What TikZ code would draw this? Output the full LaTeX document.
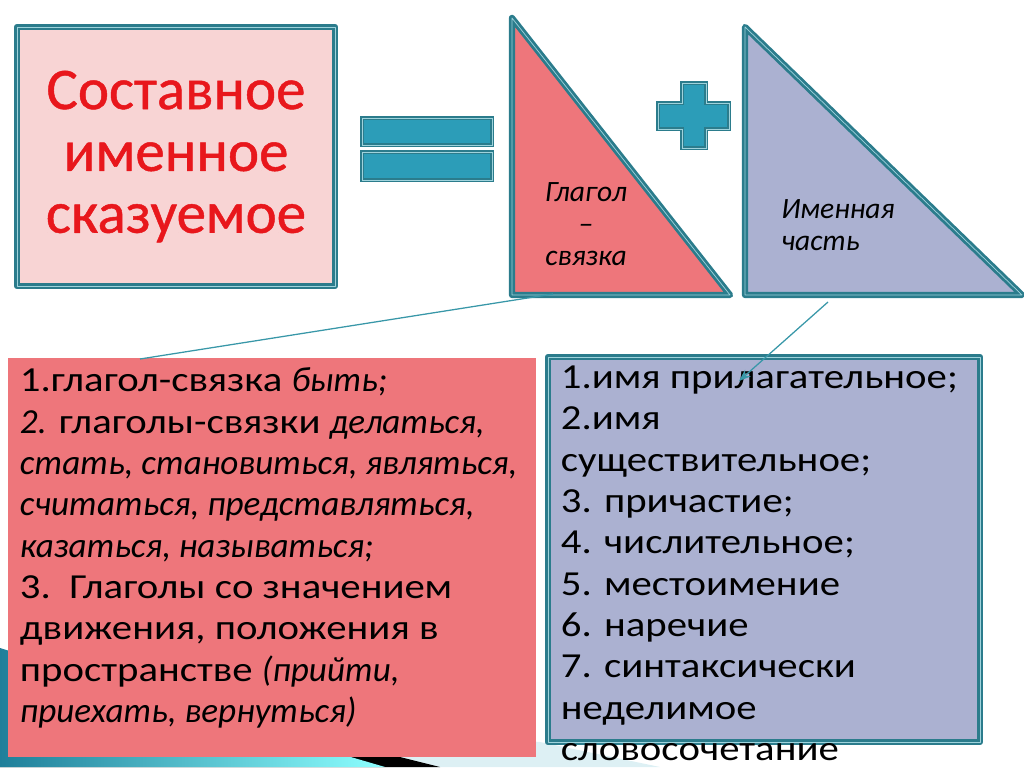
\documentclass[tikz,border=0pt]{standalone}
\usepackage{fontspec}
\setmainfont{Carlito}
\newfontfamily\listfont{Carlito}[UprightFeatures={FakeStretch=1.16}]
\newfontfamily\headfont{Carlito}[FakeBold=0.8]
\usetikzlibrary{arrows.meta,positioning}

\definecolor{edgeteal}{HTML}{2B7C8C}
\definecolor{sheen}{HTML}{9FD3DC}
\definecolor{barteal}{HTML}{2C9DB8}
\definecolor{rosefill}{HTML}{EE767B}
\definecolor{blushfill}{HTML}{F8D4D4}
\definecolor{lilacfill}{HTML}{ABB1D1}
\definecolor{titlered}{HTML}{E8171C}
\definecolor{linkteal}{HTML}{3897A8}
\definecolor{swooshteal}{HTML}{1F7F9A}
\definecolor{swooshlight}{HTML}{DDF0F4}

\tikzset{
  frame/.style={draw=edgeteal, line width=2pt, double=sheen, double distance=0.5pt, line join=round},
  bar/.style={fill=barteal, draw=edgeteal, line width=1pt, double=sheen, double distance=0.4pt},
  link/.style={draw=linkteal, line width=0.9pt},
  tritext/.style={inner sep=0pt, font=\fontsize{21}{22.5}\selectfont\itshape},
  listtext/.style={anchor=north west, inner sep=0pt, align=left, font=\listfont\fontsize{25}{29.4}\selectfont},
}

\begin{document}
\begin{tikzpicture}[x=0.25mm, y=-0.25mm]
\useasboundingbox (0,0) rectangle (1024,767);

% template swoosh, bottom left
\fill[swooshlight] (0,700) -- (540,742) -- (660,767) -- (0,767) -- cycle;
\fill[black] (0,655) -- (340,742) -- (440,767) -- (0,767) -- cycle;
\shade[left color=swooshteal, right color=cyan!45] (0,648) -- (320,748) -- (385,767) -- (0,767) -- cycle;

% title
\node[frame, fill=blushfill, minimum width=79.5mm, minimum height=64.75mm, align=center,
  text=titlered, font=\headfont\fontsize{42}{44}\selectfont] (title) at (176,156.5) {Составное\\именное\\сказуемое};

% equals
\draw[bar] (362,118) rectangle (492,145);
\draw[bar] (362,152) rectangle (492,180);

% triangles
\draw[frame, fill=rosefill] (512,18) -- (512,295) -- (730,295) -- cycle;
\draw[frame, fill=lilacfill] (745,27) -- (745,295) -- (1022,295) -- cycle;
\node[tritext, align=center] (copula) at (586,224) {Глагол\\–\\связка};
\node[tritext, anchor=west, align=left] (nominal) at (781,225) {Именная\\часть};

% plus
\draw[bar] (682,83) -- (706,83) -- (706,103) -- (729,103) -- (729,129) -- (706,129) -- (706,148)
  -- (682,148) -- (682,129) -- (658,129) -- (658,103) -- (682,103) -- cycle;

% lists
\node[fill=rosefill, minimum width=132mm, minimum height=99.75mm] (verbbox) at (272,557.5) {};
\node[frame, fill=lilacfill, minimum width=108mm, minimum height=96.25mm] (nounbox) at (764,549.5) {};

\node[listtext] (verbs) at ([xshift=3mm, yshift=-2.5mm]verbbox.north west) {%
1.глагол-связка \textit{быть;}\\
\textit{2.} глаголы-связки \textit{делаться,}\\
\textit{стать, становиться, являться,}\\
\textit{считаться, представляться,}\\
\textit{казаться, называться;}\\
3.~~Глаголы со значением\\
движения, положения в\\
пространстве \textit{(прийти,}\\
\textit{приехать, вернуться)}};

\node[listtext] (nouns) at ([xshift=3.5mm, yshift=-2.5mm]nounbox.north west) {%
1.имя прилагательное;\\
2.имя\\
существительное;\\
3. причастие;\\
4. числительное;\\
5. местоимение\\
6. наречие\\
7. синтаксически\\
неделимое\\
словосочетание};

% connectors
\coordinate (copulafoot) at (553,294);
\coordinate (verbtop) at (140,359);
\coordinate (nominalfoot) at (828,302);
\coordinate (nountip) at (739,381);
\draw[link] (copulafoot) -- (verbtop);
\draw[link, -{Stealth[length=3mm, width=2.2mm]}] (nominalfoot) -- (nountip);
\end{tikzpicture}
\end{document}
